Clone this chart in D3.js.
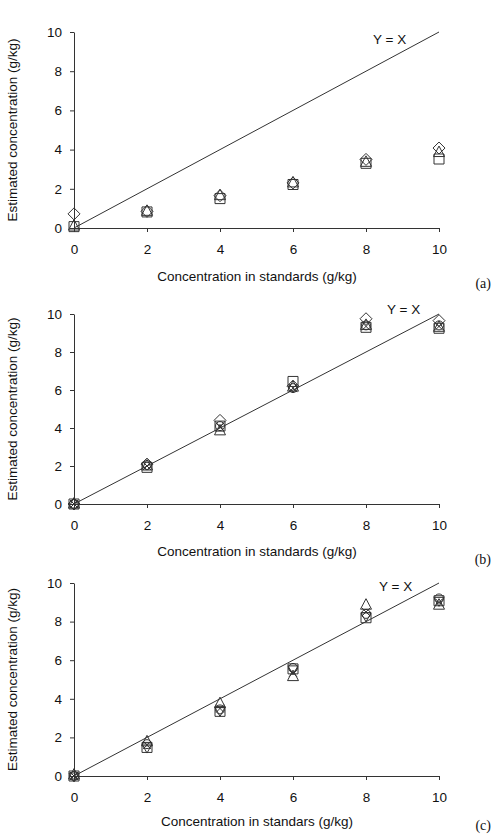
<!DOCTYPE html>
<html>
<head>
<meta charset="utf-8">
<script src="https://cdn.jsdelivr.net/npm/d3@7"></script>
<style>
  html, body { margin: 0; padding: 0; background: #fff; }
  svg { display: block; }
  text { font-family: "Liberation Sans", Arial, sans-serif; fill: #111; }
</style>
</head>
<body>
<svg id="chart" width="504" height="836"></svg>
<script>
// ---------- data ----------
const standards = [0, 2, 4, 6, 8, 10];
const tickValues = [0, 2, 4, 6, 8, 10];

// Panel (a)
const aDiamond  = [0.72, 0.85, 1.65, 2.3, 3.5, 4.08];
const aSquare   = [0.07, 0.82, 1.5, 2.22, 3.3, 3.52];
const aTriangle = [0.1, 0.85, 1.65, 2.3, 3.35, 3.85];

// Panel (b)
const bDiamond  = [0, 2.1, 4.4, 6.2, 9.75, 9.65];
const bSquare   = [0, 1.93, 4.1, 6.45, 9.3, 9.25];
const bTriangle = [0, 2.0, 3.85, 6.15, 9.4, 9.3];
const bCross    = [0, 2.0, 4.05, 6.1, 9.35, 9.35];
const bCircle   = [0, 2.05, 4.1, 6.1, 9.4, 9.4];

// Panel (c)
const cTriangle = [0.05, 1.77, 3.75, 5.15, 8.85, 8.85];
const cSquare   = [0, 1.48, 3.35, 5.55, 8.2, 9.08];
const cCircle   = [0, 1.65, 3.45, 5.6, 8.4, 9.2];
const cCross    = [0, 1.6, 3.5, 5.35, 8.5, 9.0];
const cDownTri  = [0, 1.5, 3.4, 5.55, 8.3, 9.1];

const yTitle = "Estimated concentration (g/kg)";
const xTitles = ["Concentration in standards (g/kg)", "Concentration in standards (g/kg)", "Concentration in standars (g/kg)"];
const panelTags = ["(a)", "(b)", "(c)"];
const identityLabel = "Y = X";

const panels = [
  { series: [["diamond", aDiamond], ["square", aSquare], ["triangle", aTriangle]],
    top: 32, bottom: 228, idx: 373, idy: 39, titleOff: 48, tagOff: 55 },
  { series: [["diamond", bDiamond], ["square", bSquare], ["triangle", bTriangle], ["cross", bCross], ["circle", bCircle]],
    top: 314, bottom: 504, idx: 387, idy: 309, titleOff: 47, tagOff: 55 },
  { series: [["triangle", cTriangle], ["square", cSquare], ["circle", cCircle], ["cross", cCross], ["downtri", cDownTri]],
    top: 583, bottom: 776, idx: 379, idy: 586, titleOff: 45, tagOff: 49 }
];

// ---------- drawing ----------
const svg = d3.select("#chart");
const left = 74, right = 439;
const stroke = "#333";

function markerPath(type) {
  const p = d3.path();
  switch (type) {
    case "diamond": p.moveTo(0, -6); p.lineTo(6, 0); p.lineTo(0, 6); p.lineTo(-6, 0); p.closePath(); break;
    case "square": p.rect(-5, -5, 10, 10); break;
    case "triangle": p.moveTo(0, -6.5); p.lineTo(5.5, 4); p.lineTo(-5.5, 4); p.closePath(); break;
    case "downtri": p.moveTo(0, 6); p.lineTo(5, -3); p.lineTo(-5, -3); p.closePath(); break;
    case "circle": p.arc(0, 0, 4.5, 0, 2 * Math.PI); break;
    case "cross": p.moveTo(-4, -4); p.lineTo(4, 4); p.moveTo(4, -4); p.lineTo(-4, 4); break;
  }
  return p.toString();
}

panels.forEach((pn, i) => {
  const x = d3.scaleLinear().domain([0, 10]).range([left, right]);
  const y = d3.scaleLinear().domain([0, 10]).range([pn.bottom, pn.top]);
  const g = svg.append("g");

  // axes
  const yAxis = d3.axisLeft(y).tickValues(tickValues).tickSize(4).tickPadding(8).tickSizeOuter(0);
  const xAxis = d3.axisBottom(x).tickValues(tickValues).tickSize(4).tickPadding(12).tickSizeOuter(0);
  const ga = g.append("g").attr("transform", `translate(${left},0)`).call(yAxis);
  const gb = g.append("g").attr("transform", `translate(0,${pn.bottom})`).call(xAxis);
  [ga, gb].forEach(s => {
    s.select(".domain").attr("stroke", stroke);
    s.selectAll(".tick line").attr("stroke", stroke);
    s.selectAll(".tick text").style("font-size", "13.5px").attr("fill", "#111");
  });

  // identity line
  const line = d3.line().x(d => x(d)).y(d => y(d));
  g.append("path").datum([0, 10]).attr("d", line)
    .attr("fill", "none").attr("stroke", stroke).attr("stroke-width", 1);

  g.append("text").attr("x", pn.idx).attr("y", pn.idy).attr("dy", "0.36em")
    .style("font-size", "13.5px").text(identityLabel);

  // markers
  pn.series.forEach(([type, vals]) => {
    g.append("g").selectAll("path").data(vals).join("path")
      .attr("transform", (d, j) => `translate(${x(standards[j])},${y(d)})`)
      .attr("d", markerPath(type))
      .attr("fill", "none").attr("stroke", stroke).attr("stroke-width", 1);
  });

  // titles
  g.append("text")
    .attr("transform", `translate(12.5,${(pn.top + pn.bottom) / 2}) rotate(-90)`)
    .attr("text-anchor", "middle").attr("dy", "0.36em")
    .style("font-size", "13.5px").text(yTitle);
  g.append("text").attr("x", 257).attr("y", pn.bottom + pn.titleOff).attr("dy", "0.36em")
    .attr("text-anchor", "middle").style("font-size", "13.5px").text(xTitles[i]);
  g.append("text").attr("x", 491).attr("y", pn.bottom + pn.tagOff).attr("dy", "0.36em")
    .attr("text-anchor", "end").style("font-family", "'Liberation Serif', 'Times New Roman', serif")
    .style("font-size", "14px").text(panelTags[i]);
});
</script>
</body>
</html>
